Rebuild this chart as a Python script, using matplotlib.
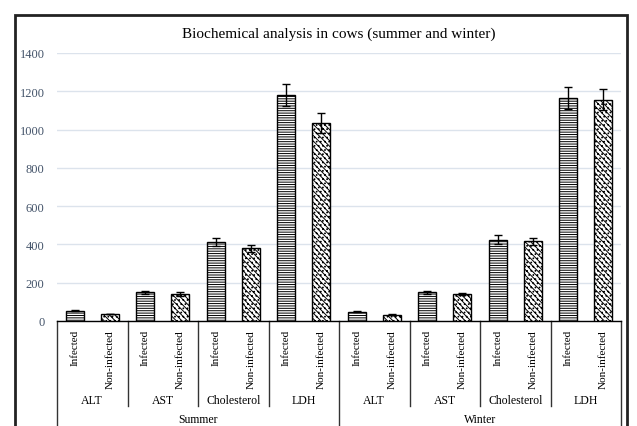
import matplotlib
matplotlib.use("Agg")
import matplotlib.pyplot as plt
from matplotlib.patches import Rectangle
from matplotlib.lines import Line2D

plt.rcParams['font.family'] = ['Liberation Serif', 'DejaVu Serif']
plt.rcParams['hatch.linewidth'] = 0.7

seasons = ["Summer", "Winter"]
parameters = ["ALT", "AST", "Cholesterol", "LDH"]
groups = ["Infected", "Non-infected"]
summer_values = [54, 37, 151, 141, 414, 381, 1181, 1033]
summer_errors = [3, 2, 8, 8, 20, 18, 58, 52]
winter_values = [49, 33, 150, 141, 425, 416, 1167, 1156]
winter_errors = [3, 2, 7, 7, 22, 20, 58, 55]
yticks = [0, 200, 400, 600, 800, 1000, 1200, 1400]

values = summer_values + winter_values
errors = summer_errors + winter_errors

W, H = 637, 427
fig = plt.figure(figsize=(W / 100, H / 100), dpi=100)
ax = fig.add_axes([57 / W, (H - 322) / H, (621 - 57) / W, (322 - 54) / H])

x = list(range(len(values)))
hatches = ['-------' if i % 2 == 0 else '\\\\\\\\\\\\....' for i in x]
for xi, v, e, h in zip(x, values, errors, hatches):
    ax.bar(xi, v, width=0.51, color='white', edgecolor='black', linewidth=1.0,
           hatch=h, zorder=3)
    ax.errorbar(xi, v, yerr=e, color='black', capsize=3, elinewidth=1.0,
                capthick=1.0, zorder=4)

ax.set_xlim(-0.5, len(values) - 0.5)
ax.set_ylim(0, 1400)
ax.set_yticks(yticks)
ax.set_yticklabels([str(t) for t in yticks], color='#44546a', fontsize=9)
ax.tick_params(axis='y', length=0, pad=9)
ax.set_xticks([])
ax.yaxis.grid(True, color='#dce3ec', linewidth=1.0, zorder=0)
ax.set_axisbelow(True)
for s in ['left', 'top', 'right']:
    ax.spines[s].set_visible(False)
ax.spines['bottom'].set_color('black')
ax.spines['bottom'].set_linewidth(1.0)

ax.set_title("Biochemical analysis in cows (summer and winter)", fontsize=11,
             pad=12)

tr = ax.get_xaxis_transform()
px = 1 / (322 - 54)
# group labels
for i in x:
    ax.text(i, -8 * px, groups[i % 2], rotation=90, ha='center', va='top',
            fontsize=8, transform=tr)
# parameter labels
for k in range(8):
    ax.text(2 * k + 0.5, -(401 - 322) * px, parameters[k % 4], ha='center',
            va='center', fontsize=8.5, transform=tr)
# season labels
for k, s in enumerate(seasons):
    ax.text(8 * k + 3.5, -(420 - 322) * px, s, ha='center', va='center',
            fontsize=8.5, transform=tr)
# separators
for k in range(9):
    xs = 2 * k - 0.5
    ybot = -0.45 if k % 4 == 0 else -(407 - 322) * px
    ax.add_line(Line2D([xs, xs], [0, ybot], color='#333333', linewidth=1.0,
                       transform=tr, clip_on=False))

# outer frame
fig.add_artist(Rectangle((15 / W, -0.1), (627 - 15) / W, (H - 16) / H + 0.1,
                         transform=fig.transFigure, fill=False,
                         edgecolor='#222222', linewidth=2.0))

fig.savefig("out.png", dpi=100)
